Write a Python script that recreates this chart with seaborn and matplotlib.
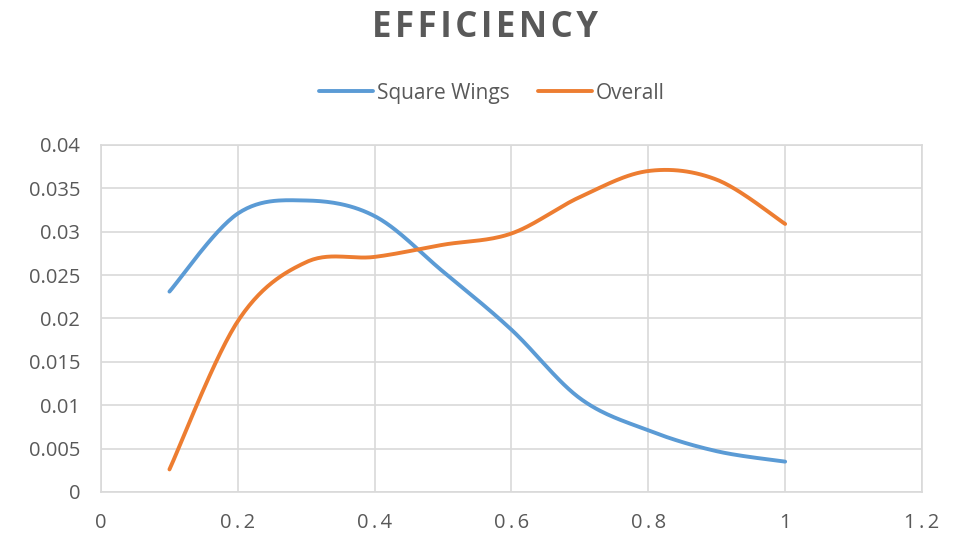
import numpy as np
import pandas as pd
import matplotlib
matplotlib.use("Agg")
import matplotlib.pyplot as plt
import seaborn as sns
from matplotlib.lines import Line2D

# ---- data ----
x_vals = [0.1, 0.2, 0.3, 0.4, 0.5, 0.6, 0.7, 0.8, 0.9, 1.0]
square_wings = [0.0231, 0.0321, 0.0336, 0.0318, 0.0254, 0.0187, 0.0108, 0.0071, 0.0047, 0.0035]
overall = [0.0026, 0.0197, 0.0265, 0.0271, 0.0285, 0.0298, 0.0340, 0.0370, 0.0360, 0.0309]
series_names = ["Square Wings", "Overall"]
title_text = "EFFICIENCY"
x_ticks = [0, 0.2, 0.4, 0.6, 0.8, 1, 1.2]
y_ticks = [0, 0.005, 0.01, 0.015, 0.02, 0.025, 0.03, 0.035, 0.04]

colors = {"Square Wings": "#5B9BD5", "Overall": "#ED7D31"}
text_color = "#595959"
grid_color = "#D9D9D9"


def excel_smooth(xs, ys, n=30):
    """Render a smoothed path through the points (Bezier, Excel-style)."""
    xs = np.asarray(xs, float)
    ys = np.asarray(ys, float)
    m = len(xs)
    ox, oy = [], []
    for i in range(m - 1):
        p0 = np.array([xs[max(i - 1, 0)], ys[max(i - 1, 0)]])
        p1 = np.array([xs[i], ys[i]])
        p2 = np.array([xs[i + 1], ys[i + 1]])
        p3 = np.array([xs[min(i + 2, m - 1)], ys[min(i + 2, m - 1)]])
        c1 = p1 + (p2 - p0) / 6.0
        c2 = p2 - (p3 - p1) / 6.0
        t = np.linspace(0, 1, n, endpoint=(i == m - 2))
        b = ((1 - t) ** 3)[:, None] * p1 + (3 * (1 - t) ** 2 * t)[:, None] * c1 \
            + (3 * (1 - t) * t ** 2)[:, None] * c2 + (t ** 3)[:, None] * p2
        ox.extend(b[:, 0])
        oy.extend(b[:, 1])
    return ox, oy


frames = []
for name, vals in zip(series_names, [square_wings, overall]):
    sx, sy = excel_smooth(x_vals, vals)
    frames.append(pd.DataFrame({"x": sx, "y": sy, "series": name}))
df = pd.concat(frames, ignore_index=True)

sns.set_theme(style="white")
plt.rcParams["font.family"] = ["Open Sans", "DejaVu Sans"]

fig = plt.figure(figsize=(9.55, 5.35), dpi=100)
ax = fig.add_axes([0.1058, 0.0804, 0.8596, 0.6486])

sns.lineplot(data=df, x="x", y="y", hue="series", hue_order=series_names,
             palette=colors, sort=False, estimator=None, units="series",
             linewidth=2.8, ax=ax, legend=False, solid_capstyle="round")

ax.set_xlim(0, 1.2)
ax.set_ylim(0, 0.04)
ax.set_xticks(x_ticks)
ax.set_yticks(y_ticks)
ax.set_xticklabels(["\u2009".join(f"{v:g}") for v in x_ticks])
ax.set_yticklabels([f"{v:g}" for v in y_ticks])
ax.grid(True, color=grid_color, linewidth=1.2)
ax.set_axisbelow(True)
for sp in ax.spines.values():
    sp.set_color(grid_color)
    sp.set_linewidth(1.2)
ax.tick_params(axis="both", length=0, labelsize=14.5, colors=text_color)
ax.tick_params(axis="y", pad=15)
ax.tick_params(axis="x", pad=15)
ax.set_xlabel("")
ax.set_ylabel("")

# title
fig.text(0.5075, 0.948, "\u200a".join(title_text), ha="center", va="center",
         fontsize=25, fontweight="bold", color=text_color)

# legend
handles = [Line2D([0], [0], color=colors[n], linewidth=2.8) for n in series_names]
leg = fig.legend(handles, series_names, loc="center", bbox_to_anchor=(0.515, 0.826),
                 ncol=2, frameon=False, fontsize=15, handlelength=2.6,
                 handletextpad=0.2, columnspacing=1.35, labelcolor=text_color)

fig.savefig("out.png", dpi=100)
